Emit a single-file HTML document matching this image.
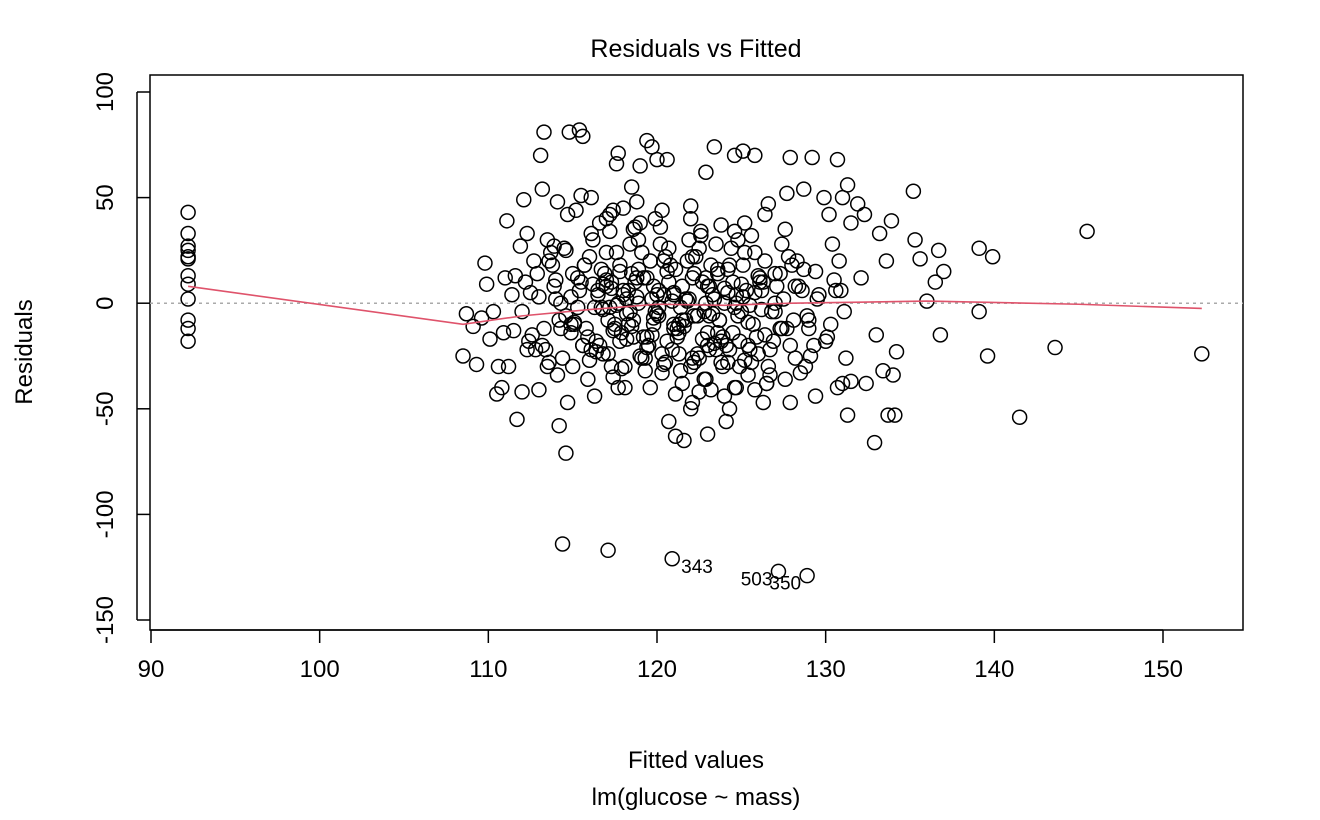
<!DOCTYPE html>
<html><head><meta charset="utf-8"><style>
html,body{margin:0;padding:0;background:#fff;}
svg text{font-family:"Liberation Sans",sans-serif;fill:#000;}
</style></head><body>
<svg id="chart" width="1320" height="815" xmlns="http://www.w3.org/2000/svg">
<text x="696" y="57" font-size="25" text-anchor="middle">Residuals vs Fitted</text>
<rect x="150" y="75" width="1093" height="555" fill="none" stroke="#000" stroke-width="1.5"/>
<g id="xaxis"></g>
<g id="yaxis"></g>
<line id="zeroline" stroke="#aaa" stroke-width="1.5" stroke-dasharray="3,4"/>
<g id="points"></g>
<path id="smooth" fill="none" stroke="#df536b" stroke-width="1.6"/>
<g id="labels"></g>
<text x="696" y="768" font-size="24" text-anchor="middle">Fitted values</text>
<text x="696" y="805" font-size="24" text-anchor="middle">lm(glucose ~ mass)</text>
<text transform="translate(32,352) rotate(-90)" font-size="24" text-anchor="middle">Residuals</text>
</svg>
<script>
const xTicks = [90,100,110,120,130,140,150];
const yTicks = [100,50,0,-50,-100,-150];
const fitted = [92.2,92.2,92.2,92.2,92.2,92.2,92.2,92.2,92.2,92.2,92.2,92.2,
114.4,117.1,120.9,127.2,128.9,
135.2,135.3,135.6,136.0,136.5,136.7,137.0,136.8,139.1,139.1,139.6,139.9,141.5,143.6,145.5,152.3,134.1,133.7,133.6,133.9,134.2,134.0,133.4,132.9,133.2,133.0,
108.5,108.7,109.1,109.3,109.6,109.8,109.9,110.1,110.3,110.5,110.8,111.0,111.1,111.2,111.5,111.7,111.9,112.0,112.1,112.3,112.5,112.8,113.1,113.2,113.3,113.0,113.6,113.9,114.2,114.3,114.7,114.6,114.8,114.7,115.2,115.4,115.6,115.5,114.1,114.0,116.1,116.6,117.2,117.4,117.6,117.7,118.0,118.5,118.8,119.0,119.4,119.7,120.0,119.9,120.6,120.7,121.1,121.6,122.0,122.1,123.0,123.4,122.9,123.2,124.1,124.3,124.6,125.1,125.8,126.6,126.4,126.3,125.8,127.4,127.7,127.9,127.9,128.7,129.2,128.8,129.9,130.2,130.4,130.7,131.3,131.0,131.3,131.0,130.7,131.9,132.3,132.1,132.4,131.5,129.4,129.1,130.8,130.5,130.6,131.1,131.2,131.5,130.3,
112.2,112.6,113.0,113.4,113.8,114.2,114.6,115.0,115.4,115.8,116.2,116.6,117.0,117.4,117.8,118.2,118.6,119.0,119.4,119.8,120.2,120.6,121.0,121.4,121.8,122.2,122.6,123.0,123.4,123.8,124.2,124.6,125.0,125.4,125.8,126.2,126.6,127.0,127.4,127.8,128.2,128.6,129.0,129.4,
112.4,112.9,113.5,114.0,114.5,115.1,115.7,116.3,116.8,117.3,117.9,118.4,118.9,119.5,120.1,120.5,121.1,121.7,122.3,122.8,123.3,123.9,124.4,125.0,125.5,126.1,126.7,127.1,127.7,128.3,128.9,129.5,130.0,
112.0,112.7,113.3,113.9,114.4,115.0,115.6,116.0,116.5,117.1,117.6,118.1,118.7,119.2,119.7,120.3,120.8,121.3,121.9,122.4,122.9,123.5,124.0,124.5,125.1,125.6,126.2,126.8,127.3,127.9,128.4,129.0,129.6,130.1,
113.2,113.7,114.3,114.9,115.5,116.1,116.7,117.2,117.8,118.3,118.8,119.3,119.9,120.4,121.0,121.5,122.0,122.5,123.1,123.6,124.1,124.7,125.2,125.7,126.3,126.9,127.5,128.1,128.7,
110.9,111.4,112.3,115.3,116.4,117.0,117.5,118.0,118.5,119.1,119.6,120.1,120.7,121.2,121.7,122.2,122.7,123.2,123.7,124.3,124.8,125.3,125.9,126.4,127.0,127.6,128.2,
115.9,116.9,117.3,117.8,118.4,118.9,119.4,120.0,120.5,121.0,121.5,122.1,122.6,123.1,123.6,124.2,124.7,125.2,126.0,
116.3,117.0,117.7,118.2,118.7,119.3,119.8,120.3,120.9,121.4,122.0,122.5,123.0,123.5,124.0,124.6,125.4,
117.5,118.6,119.6,120.4,121.3,122.1,122.9,123.8,124.9,126.5,128.0,129.3,130.9,116.8,114.9,113.6,111.6,110.6,
114.6,115.3,115.9,116.5,117.1,117.7,118.3,118.9,119.5,120.1,120.7,121.3,121.9,122.5,123.1,123.7,124.3,124.9,125.5,126.1,126.7,127.3,
114.9,115.6,116.2,116.8,117.4,118.0,118.6,119.2,119.8,120.4,121.0,121.6,122.2,122.8,123.4,124.0,124.6,125.2,125.8,126.4,127.0,
115.1,115.7,116.4,117.0,117.6,118.2,118.8,119.4,120.0,120.6,121.2,121.8,122.4,123.0,123.6,124.2,124.8,125.4,126.0,
116.0,116.7,117.3,117.9,118.5,119.1,119.7,120.3,120.9,121.5,122.1,122.7,123.3,123.9,124.5,125.1,
113.5,114.1,116.1,117.2,118.1,119.0,120.2,121.1,122.0,122.9,123.8,124.7,125.6,126.5,127.6,128.5];
const residuals = [43,33,27,25,22,21,13,9,2,-8,-12,-18,
-114,-117,-121,-127,-129,
53,30,21,1,10,25,15,-15,26,-4,-25,22,-54,-21,34,-24,-53,-53,20,39,-23,-34,-32,-66,33,-15,
-25,-5,-11,-29,-7,19,9,-17,-4,-43,-40,12,39,-30,-13,-55,27,-42,49,33,5,-22,70,54,81,-41,20,27,-58,-12,-47,-71,81,42,44,82,79,51,48,11,50,38,42,44,66,71,45,55,48,65,77,74,68,40,68,-56,-63,-65,-50,-47,-62,74,62,-41,-56,-50,70,72,70,47,42,-47,-41,28,52,69,-47,54,69,-30,50,42,28,68,56,50,-53,-38,-40,47,42,12,-38,38,-44,-25,20,11,6,-4,-26,-37,-10,
10,-15,3,-22,18,-8,25,-30,6,-12,30,-20,8,-35,15,-5,35,-25,12,-10,28,-18,5,-32,20,-6,32,-14,2,-28,16,-40,9,-20,24,-3,-30,14,-12,22,-26,6,-8,15,
-18,14,-30,2,26,-10,18,-2,-24,10,-14,28,0,-20,6,-28,16,-8,22,-36,4,-16,26,-4,-22,12,-34,8,-12,20,-6,2,-18,
-4,20,-12,8,-26,14,-20,22,4,-8,24,-30,10,-16,2,-24,18,-10,30,-6,12,-22,0,-14,18,-28,6,-4,14,-20,8,-12,4,-16,
-20,24,0,-14,10,-22,16,-2,-18,6,12,-26,-4,20,-12,8,-30,26,-6,14,-20,4,24,-10,10,-18,2,-8,16,
-14,4,-22,-2,-18,24,-10,4,14,-26,20,-6,26,-16,2,-28,10,18,-8,-22,30,6,-16,20,-4,-36,8,
-36,14,-30,18,-4,30,-16,4,22,-10,-38,12,34,-22,16,-28,0,38,-24,
-44,40,-40,2,36,-32,8,44,-22,-2,46,-42,-20,28,-44,34,-34,
-12,-8,-40,4,-24,-26,0,-18,-30,-38,18,-20,6,9,-10,-28,13,-30,
-6,12,-16,6,-24,0,-10,16,-20,-2,10,-14,2,-26,8,-8,18,-18,-1,10,-22,-12,
3,-20,9,-3,-13,6,-16,12,-7,-29,4,-11,14,-4,-19,7,-2,-27,5,-15,0,
-9,18,-23,11,-1,-17,3,-21,-5,15,-12,1,-24,8,-14,5,-6,-9,13,
-27,-2,7,-31,-11,24,-15,-33,1,-8,22,-17,-5,-30,10,3,
30,-34,33,34,-40,38,36,-43,40,-36,37,-40,32,-38,35,-33];
const lossX = [92.2,108.5,112,116,120,124,128,132,136,145,152.3];
const lossY = [8,-10,-6,-3,-0.5,-1,0,0.5,1,-0.5,-2.5];
const labelText = ['343','503','350'];
const labelX = [120.9,127.2,128.9];
const labelY = [-121,-127,-129];
const labelSide = [1,-1,-1];

const sx = v => 151 + (v-90)*(1163-151)/60;
const sy = v => 303.2 - v*2.112;
const NS='http://www.w3.org/2000/svg';
function mk(tag, attrs, parent){const e=document.createElementNS(NS,tag);for(const k in attrs)e.setAttribute(k,attrs[k]);parent.appendChild(e);return e;}
const xa=document.getElementById('xaxis'), ya=document.getElementById('yaxis');
mk('line',{x1:sx(90),x2:sx(150),y1:630,y2:630,stroke:'#000','stroke-width':1.5},xa);
xTicks.forEach(t=>{
  const l=mk('line',{x1:sx(t),x2:sx(t),y1:630,y2:643,stroke:'#000','stroke-width':1.5},xa);
  
  
  const tx=mk('text',{x:sx(t),y:677,'font-size':24,'text-anchor':'middle'},xa);
  tx.textContent=t;
  
  
});
yTicks.forEach(t=>{
  const l=mk('line',{x1:137,x2:150,y1:sy(t),y2:sy(t),stroke:'#000','stroke-width':1.5},ya);
  
  
  const tx=mk('text',{transform:`translate(113,${sy(t)}) rotate(-90)`,'font-size':24,'text-anchor':'middle'},ya);
  tx.textContent=t;
  
  
});
mk('line',{x1:137,x2:137,y1:sy(100),y2:sy(-150),stroke:'#000','stroke-width':1.5},ya);
const z=document.getElementById('zeroline');
z.setAttribute('x1',150);z.setAttribute('x2',1243);z.setAttribute('y1',sy(0));z.setAttribute('y2',sy(0));
const pg=document.getElementById('points');
const n=Math.min(fitted.length,residuals.length);
for(let i=0;i<n;i++){
  const c=mk('circle',{cx:sx(fitted[i]),cy:sy(residuals[i]),r:7,fill:'none',stroke:'#000','stroke-width':1.5},pg);
  
  
}
document.getElementById('smooth').setAttribute('d',lossX.map((v,i)=>(i?'L':'M')+sx(v)+','+sy(lossY[i])).join(''));
const lg=document.getElementById('labels');
labelText.forEach((s,i)=>{
  const right=labelSide[i]>0;
  const t=mk('text',{x:sx(labelX[i])+(right?9:-6),y:sy(labelY[i])+14,'font-size':19,'text-anchor':right?'start':'end'},lg);
  t.textContent=s;
  
  
});
</script>
</body></html>
